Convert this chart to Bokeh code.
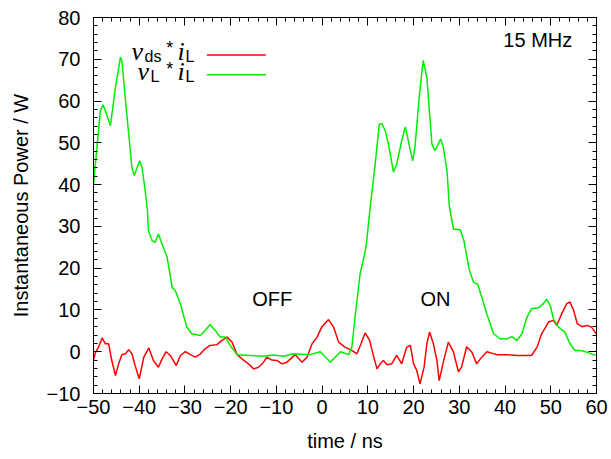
from bokeh.plotting import figure
from bokeh.models import (Range1d, SingleIntervalTicker, LinearAxis, Label,
                          PolyAnnotation, CustomLabelingPolicy)
from bokeh.embed import file_html
from bokeh.resources import INLINE

# ---- data ----
time_vl = [-50.0, -48.5, -47.9, -47.4, -46.3, -45.2, -44.1, -43.8, -43.0, -42.3,
           -41.6, -41.1, -39.9, -39.4, -38.7, -38.2, -38.0, -37.2, -36.5, -35.8,
           -35.0, -33.9, -32.8, -32.1, -31.0, -29.6, -28.5, -26.6, -25.6, -24.5,
           -23.4, -22.3, -21.2, -20.1, -18.6, -15.7, -12.8, -10.6, -8.4, -6.3,
           -2.6, -0.4, 1.8, 4.0, 5.8, 6.5, 7.2, 8.3, 9.6, 10.5,
           11.6, 12.5, 13.1, 13.8, 14.5, 15.6, 16.3, 17.4, 18.2, 18.9,
           19.8, 20.3, 21.3, 22.1, 22.9, 24.0, 24.7, 25.2, 25.9, 26.5,
           27.3, 27.8, 28.7, 30.2, 31.0, 32.1, 33.1, 34.0, 34.9, 36.0,
           37.5, 38.9, 40.4, 41.5, 42.6, 43.7, 44.8, 45.8, 47.3, 48.4,
           49.1, 49.9, 50.6, 51.7, 53.1, 54.2, 55.3, 56.4, 57.9, 59.3, 60.0]
power_vl = [40.0, 57.7, 59.1, 57.7, 54.1, 63.3, 70.5, 69.7, 60.1, 52.1,
            44.1, 42.2, 45.7, 44.1, 38.6, 33.8, 29.0, 26.6, 26.2, 28.2,
            25.8, 22.6, 15.4, 14.6, 11.5, 5.9, 4.3, 3.9, 5.1, 6.5,
            5.1, 3.5, 3.5, 1.5, -0.7, -0.9, -1.1, -0.8, -1.1, -0.5,
            -0.7, 0.0, -2.5, 0.0, -0.7, 1.1, 8.3, 18.6, 25.0, 34.5,
            44.9, 54.5, 54.5, 52.9, 49.7, 43.0, 44.9, 50.5, 53.8, 50.2,
            45.7, 49.0, 61.7, 69.7, 65.7, 49.7, 48.1, 49.3, 50.9, 49.0,
            43.3, 35.0, 29.4, 29.2, 26.6, 20.0, 16.6, 16.2, 13.1, 9.1,
            4.3, 3.1, 3.1, 3.6, 2.7, 4.3, 8.3, 10.3, 10.5, 11.5,
            12.6, 11.0, 7.8, 5.9, 4.7, 1.9, 0.3, 0.3, -0.1, -0.7, -0.7]

time_vds = [-50.0, -49.6, -48.9, -48.1, -47.4, -46.7, -46.0, -45.2, -44.5, -43.8,
            -43.0, -42.3, -41.6, -40.9, -40.0, -39.0, -37.9, -36.9, -35.8, -35.0,
            -34.1, -33.2, -31.9, -31.0, -29.9, -28.8, -27.7, -26.6, -25.6, -24.5,
            -23.0, -21.9, -20.8, -19.7, -18.6, -17.2, -16.1, -15.0, -13.9, -12.8,
            -12.1, -11.0, -9.9, -8.8, -7.7, -5.9, -4.4, -3.3, -2.2, -1.1,
            -0.1, 1.4, 2.5, 3.6, 5.0, 6.5, 7.6, 8.5, 9.4, 10.4,
            11.1, 12.0, 12.7, 13.4, 14.2, 15.2, 16.3, 17.4, 18.5, 19.3,
            20.0, 20.7, 21.4, 22.3, 22.9, 23.5, 24.3, 25.1, 25.6, 26.5,
            27.6, 28.7, 29.8, 30.5, 31.6, 32.7, 33.8, 34.9, 36.0, 38.2,
            40.4, 42.6, 45.8, 47.0, 48.0, 49.5, 50.6, 51.3, 52.4, 53.5,
            54.2, 55.0, 55.8, 56.8, 57.9, 58.9, 59.7, 60.0]
power_vds = [-2.0, -0.3, 1.1, 3.3, 1.9, 1.9, -2.1, -5.7, -2.9, -0.7,
             -0.5, 0.5, -0.5, -3.3, -6.5, -1.3, 0.9, -2.1, -3.7, -1.7,
             0.0, -0.9, -3.3, -0.9, 0.0, -0.7, -1.3, -0.5, 0.7, 1.5,
             1.7, 2.7, 3.5, 2.3, -0.7, -2.0, -2.9, -4.1, -3.7, -2.5,
             -1.3, -2.0, -2.1, -2.9, -2.5, -0.7, -2.5, -1.3, 1.9, 3.5,
             5.9, 7.7, 5.9, 2.3, 1.1, 0.3, -0.5, 1.9, 4.5, 2.7,
             -0.5, -4.1, -2.9, -2.1, -3.1, -2.9, -0.9, -2.9, 1.1, 1.5,
             -2.9, -4.5, -7.7, -3.7, 1.9, 4.7, 2.0, -2.1, -6.9, -2.5,
             2.3, 0.0, -4.8, -3.7, 1.2, 0.0, -2.9, -1.3, 0.0, -0.7,
             -0.7, -0.9, -0.9, 1.1, 4.3, 7.1, 7.5, 6.3, 9.1, 11.5,
             11.9, 9.9, 6.7, 6.0, 6.3, 5.9, 4.7, 4.2]

x_limits = (-50, 60)
y_limits = (-10, 80)
x_label = "time / ns"
y_label = "Instantaneous Power / W"
annot_off = "OFF"
annot_on = "ON"
annot_freq = "15 MHz"

FONT = "Liberation Sans"
SERIF = "Liberation Serif"
FS = "20px"
RED = "#ff0000"
GREEN = "#00ee00"

p = figure(frame_width=503, frame_height=376,
           x_range=Range1d(*x_limits), y_range=Range1d(*y_limits),
           output_backend="svg", toolbar_location=None,
           min_border_left=93, min_border_right=8,
           min_border_top=17, min_border_bottom=60)
p.background_fill_color = "white"
p.border_fill_color = "white"
p.outline_line_color = "black"
p.outline_line_width = 1
p.xgrid.visible = False
p.ygrid.visible = False

hide_all = CustomLabelingPolicy(code="""
const Cls = indices.constructor;
return new Cls(indices.size, 0);
""")


def style_axis(ax, labels=True):
    ax.axis_line_color = "black"
    ax.axis_line_width = 1
    ax.major_tick_line_color = "black"
    ax.minor_tick_line_color = "black"
    ax.major_tick_in = 8
    ax.major_tick_out = 0
    ax.minor_tick_in = 4
    ax.minor_tick_out = 0
    if labels:
        ax.major_label_text_font = FONT
        ax.major_label_text_font_size = FS
        ax.major_label_text_color = "black"
        ax.axis_label_text_font = FONT
        ax.axis_label_text_font_size = FS
        ax.axis_label_text_font_style = "normal"
        ax.axis_label_text_color = "black"
    else:
        ax.major_label_policy = hide_all
        ax.major_label_standoff = 0


p.xaxis.ticker = SingleIntervalTicker(interval=10, num_minor_ticks=5)
p.yaxis.ticker = SingleIntervalTicker(interval=10, num_minor_ticks=5)
style_axis(p.xaxis[0])
style_axis(p.yaxis[0])
p.xaxis.axis_label = x_label
p.yaxis.axis_label = y_label
p.xaxis.major_label_standoff = 6
p.yaxis.major_label_standoff = 13
p.xaxis.axis_label_standoff = 13
p.yaxis.axis_label_standoff = 12

top_ax = LinearAxis(ticker=SingleIntervalTicker(interval=10, num_minor_ticks=5))
right_ax = LinearAxis(ticker=SingleIntervalTicker(interval=10, num_minor_ticks=5))
style_axis(top_ax, labels=False)
style_axis(right_ax, labels=False)
p.add_layout(top_ax, "above")
p.add_layout(right_ax, "right")

p.line(time_vds, power_vds, line_color=RED, line_width=1.5)
p.line(time_vl, power_vl, line_color=GREEN, line_width=1.5)

# legend sample lines
for yy, col in ((71.05, RED), (66.3, GREEN)):
    p.add_layout(PolyAnnotation(xs=[-25.2, -12.3], ys=[yy, yy], fill_alpha=0,
                                line_color=col, line_alpha=1.0, line_width=1.5))


def lab(x, y, t, font=FONT, size=FS, style="normal", align="left", base="alphabetic"):
    p.add_layout(Label(x=x, y=y, text=t, text_font=font, text_font_size=size,
                       text_font_style=style, text_align=align,
                       text_baseline=base, text_color="black"))


SUB = "16px"
# legend texts: v_ds * i_L  and  v_L * i_L
lab(-41.69, 71.86, "v", SERIF, "26px", "italic")
lab(-38.85, 70.66, "ds", size=SUB)
lab(-34.1, 72.58, "*", size="18px")
lab(-31.63, 71.86, "i", SERIF, "26px", "italic")
lab(-29.88, 70.66, "L", size=SUB)
lab(-40.38, 67.07, "v", SERIF, "26px", "italic")
lab(-37.54, 65.81, "L", size=SUB)
lab(-34.1, 67.79, "*", size="18px")
lab(-31.63, 67.07, "i", SERIF, "26px", "italic")
lab(-29.88, 65.81, "L", size=SUB)

lab(-10.9, 12.7, annot_off, align="center", base="middle")
lab(24.8, 12.7, annot_on, align="center", base="middle")
lab(54.7, 74.5, annot_freq, align="right", base="middle")

open("out.html", "w").write(file_html(p, INLINE))
